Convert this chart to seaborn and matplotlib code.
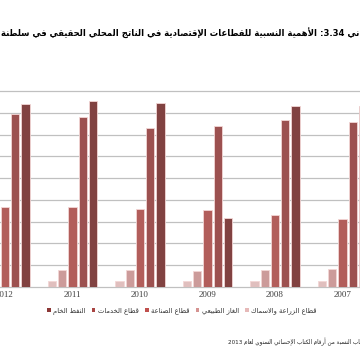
import numpy as np
import pandas as pd
import matplotlib
matplotlib.use("Agg")
import matplotlib.pyplot as plt
from matplotlib.patches import Patch
import seaborn as sns

years = ["2012", "2011", "2010", "2009", "2008", "2007"]
sectors = ["قطاع الزراعة والاسماك", "الغاز الطبيعي", "قطاع الصناعة", "قطاع الخدمات", "النفط الخام"]
agriculture = [1.3, 1.3, 1.3, 1.3, 1.3, 1.3]
gas = [3.8, 3.8, 3.8, 3.7, 3.8, 4.1]
industry = [18.4, 18.4, 18.0, 17.7, 16.6, 15.6]
services = [39.7, 39.1, 36.6, 36.9, 38.3, 37.8]
oil = [42.0, 42.7, 42.2, 15.8, 41.5, 41.5]
colors = ["#e6b9b8", "#d59391", "#c0504d", "#a94543", "#8c3836"]

title_text = "بياني 3.34: الأهمية النسبية للقطاعات الإقتصادية في الناتج المحلي الحقيقي في سلطنة"
source_text = "المصدر: حساب النسبة من أرقام الكتاب الإحصائي السنوي لعام 2013"

# matplotlib has no arabic shaping, so map letters to presentation forms by hand
LETTERS = "ءآأؤإئابةتثجحخدذرزسشصضطظعغفقكلمنهوىي"
NFORMS = [1, 2, 2, 2, 2, 4, 2, 4, 2, 4, 4, 4, 4, 4, 2, 2, 2, 2, 4, 4,
          4, 4, 4, 4, 4, 4, 4, 4, 4, 4, 4, 4, 4, 2, 2, 4]
FORMS = {}
code = 0xFE80
for ch, n in zip(LETTERS, NFORMS):
    FORMS[ch] = [chr(code + i) for i in range(n)]
    code += n
LAM_ALEF = {"آ": 0xFEF5, "أ": 0xFEF7, "إ": 0xFEF9, "ا": 0xFEFB}


def shape_word(word):
    out = []
    prev_joins = False
    i = 0
    while i < len(word):
        ch = word[i]
        if ch not in FORMS:
            out.append(ch)
            prev_joins = False
            i += 1
            continue
        if ch == "ل" and i + 1 < len(word) and word[i + 1] in LAM_ALEF:
            out.append(chr(LAM_ALEF[word[i + 1]] + (1 if prev_joins else 0)))
            prev_joins = False
            i += 2
            continue
        forms = FORMS[ch]
        nxt = word[i + 1] if i + 1 < len(word) else ""
        joins_next = len(forms) == 4 and nxt in FORMS and len(FORMS[nxt]) > 1
        if len(forms) == 1:
            f = 0
        elif prev_joins and joins_next:
            f = 3
        elif prev_joins:
            f = 1
        elif joins_next:
            f = 2
        else:
            f = 0
        out.append(forms[f])
        prev_joins = len(forms) == 4
        i += 1
    return "".join(out)


def visual(text):
    toks = []
    for tok in text.split(" "):
        if any(c in FORMS for c in tok):
            toks.append(shape_word(tok)[::-1])
        elif tok.endswith(":"):
            toks.append(":" + tok[:-1])
        else:
            toks.append(tok)
    return " ".join(toks[::-1])


rows = []
for s, vals in zip(sectors, [agriculture, gas, industry, services, oil]):
    for y, v in zip(years, vals):
        rows.append((y, s, v))
df = pd.DataFrame(rows, columns=["year", "sector", "value"])

fig = plt.figure(figsize=(3.6, 3.6), dpi=100)
ax = fig.add_axes([0, 0.203, 1, 0.544])
sns.barplot(data=df, x="year", y="value", hue="sector", order=years, hue_order=sectors,
            palette=colors, width=0.76, gap=0.2, edgecolor="#f3d6d5", linewidth=0.6,
            ax=ax, legend=False)

ax.set_ylim(0, 45)
ax.set_yticks(np.arange(0, 46, 5))
ax.yaxis.grid(True, color="#c0c0c0", lw=0.9)
for gl in ax.get_ygridlines():
    gl.set_clip_on(False)
ax.set_axisbelow(True)
ax.set_xlim(-0.074, 5.26)
for sp in ax.spines.values():
    sp.set_visible(False)
ax.tick_params(length=0, labelleft=False, pad=3)
ax.set_xlabel("")
ax.set_ylabel("")
for lab in ax.get_xticklabels():
    lab.set_fontfamily("Liberation Serif")
    lab.set_fontsize(6.5)
    lab.set_color("#404040")

handles = [Patch(facecolor=c, edgecolor="none") for c in colors][::-1]
labels = [visual(s) for s in sectors][::-1]
fig.legend(handles, labels, loc="center", bbox_to_anchor=(0.505, 0.136), ncol=5,
           frameon=False, prop={"family": "DejaVu Sans", "size": 4.9},
           handlelength=0.55, handleheight=0.55, handletextpad=0.35,
           columnspacing=0.9, labelcolor="#333333")

r = fig.canvas.get_renderer()
t = fig.text(1 / 360, 1 - 33 / 360, visual(title_text), ha="left", va="center",
             fontsize=10, fontweight="bold", family="DejaVu Sans", color="black")
w = t.get_window_extent(r).width
t.set_fontsize(10 * 372 / w)

f = fig.text(228 / 360, 1 - 342 / 360, visual(source_text), ha="left", va="center",
             fontsize=6, family="DejaVu Sans", color="#262626")
probe = fig.text(0, 0, visual("النسبة من أرقام الكتاب الإحصائي السنوي لعام 2013"),
                 fontsize=6, family="DejaVu Sans")
pw = probe.get_window_extent(r).width
probe.remove()
f.set_fontsize(6 * 125 / pw)

fig.savefig("out.png", dpi=100)
